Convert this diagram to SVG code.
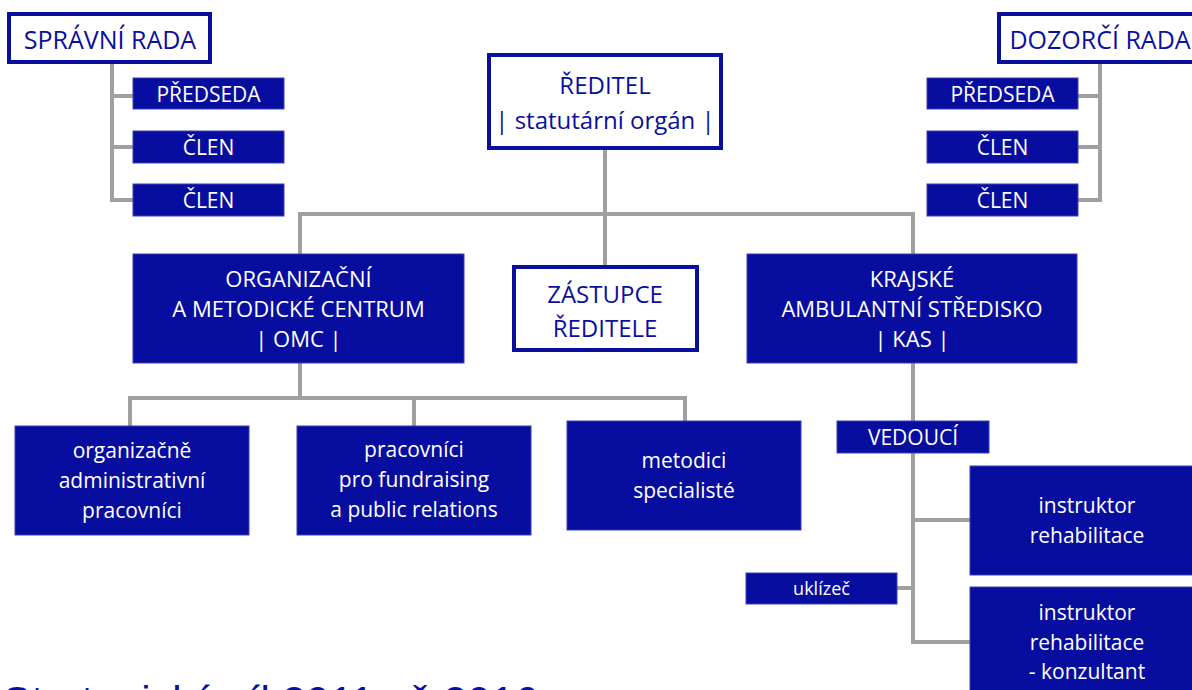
<svg xmlns="http://www.w3.org/2000/svg" width="1192" height="690" viewBox="0 0 1192 690">
<style>
.wb{fill:#ffffff;stroke:#0a0f9e;stroke-width:4}
.fb{fill:#070d9e;stroke:#3a40b4;stroke-width:1}
.t{font-family:"Open Sans","Noto Sans","DejaVu Sans",sans-serif;text-anchor:middle}
.tw{fill:#ffffff}
.tb{fill:#0a0f9e}
.c{fill:none;stroke:#a0a0a0;stroke-width:4;stroke-linejoin:miter;stroke-linecap:butt}
</style>
<rect width="1192" height="690" fill="#ffffff"/>
<g id="connectors">
<path class="c" d="M112 64 V200 H133 M112 96 H133 M112 147 H133"/>
<path class="c" d="M1100 64 V200 H1078 M1100 96 H1078 M1100 147 H1078"/>
<path class="c" d="M605 150 V265 M300 254 V214 H913 V254"/>
<path class="c" d="M300 363 V398 M130 426 V398 H685 V421 M414 398 V426"/>
<path class="c" d="M913 363 V421 M913 453 V642 H970 M913 520 H970 M897 588 H913"/>
</g>
<g id="spravni-rada"><rect class="wb" x="9" y="14" width="201" height="48"/><text class="t tb" x="110" y="49" font-size="25">SPRÁVNÍ RADA</text></g>
<g id="sr-predseda"><rect class="fb" x="133" y="78" width="151" height="31"/><text class="t tw" x="208.5" y="102" font-size="21">PŘEDSEDA</text></g>
<g id="sr-clen1"><rect class="fb" x="133" y="131" width="151" height="32"/><text class="t tw" x="208.5" y="155" font-size="21">ČLEN</text></g>
<g id="sr-clen2"><rect class="fb" x="133" y="184" width="151" height="32"/><text class="t tw" x="208.5" y="208" font-size="21">ČLEN</text></g>
<g id="dozorci-rada"><rect class="wb" x="999" y="14" width="202" height="48"/><text class="t tb" x="1100" y="49" font-size="25">DOZORČÍ RADA</text></g>
<g id="dr-predseda"><rect class="fb" x="927" y="78" width="151" height="31"/><text class="t tw" x="1002.5" y="102" font-size="21">PŘEDSEDA</text></g>
<g id="dr-clen1"><rect class="fb" x="927" y="131" width="151" height="32"/><text class="t tw" x="1002.5" y="155" font-size="21">ČLEN</text></g>
<g id="dr-clen2"><rect class="fb" x="927" y="184" width="151" height="32"/><text class="t tw" x="1002.5" y="208" font-size="21">ČLEN</text></g>
<g id="reditel"><rect class="wb" x="489" y="55" width="232" height="93"/><text class="t tb" x="605" y="94" font-size="24">ŘEDITEL</text><text class="t tb" x="605" y="129" font-size="24">| statutární orgán |</text></g>
<g id="zastupce"><rect class="wb" x="514" y="267" width="183" height="83"/><text class="t tb" x="605" y="303" font-size="24">ZÁSTUPCE</text><text class="t tb" x="605" y="337" font-size="24">ŘEDITELE</text></g>
<g id="omc"><rect class="fb" x="133" y="254" width="331" height="109"/><text class="t tw" x="298.5" y="287" font-size="22">ORGANIZAČNÍ</text><text class="t tw" x="298.5" y="317" font-size="22">A METODICKÉ CENTRUM</text><text class="t tw" x="298.5" y="347" font-size="22">| OMC |</text></g>
<g id="kas"><rect class="fb" x="747" y="254" width="330" height="109"/><text class="t tw" x="912" y="287" font-size="22">KRAJSKÉ</text><text class="t tw" x="912" y="317" font-size="22">AMBULANTNÍ STŘEDISKO</text><text class="t tw" x="912" y="347" font-size="22">| KAS |</text></g>
<g id="org-admin"><rect class="fb" x="15" y="426" width="234" height="109"/><text class="t tw" x="132" y="458" font-size="21">organizačně</text><text class="t tw" x="132" y="488" font-size="21">administrativní</text><text class="t tw" x="132" y="518" font-size="21">pracovníci</text></g>
<g id="fundraising"><rect class="fb" x="297" y="426" width="234" height="109"/><text class="t tw" x="414" y="457" font-size="21">pracovníci</text><text class="t tw" x="414" y="487" font-size="21">pro fundraising</text><text class="t tw" x="414" y="517" font-size="21">a public relations</text></g>
<g id="metodici"><rect class="fb" x="567" y="421" width="234" height="109"/><text class="t tw" x="684" y="468" font-size="21">metodici</text><text class="t tw" x="684" y="498" font-size="21">specialisté</text></g>
<g id="vedouci"><rect class="fb" x="837" y="421" width="152" height="32"/><text class="t tw" x="913" y="445" font-size="21">VEDOUCÍ</text></g>
<g id="instruktor"><rect class="fb" x="970" y="466" width="230" height="109"/><text class="t tw" x="1087" y="513" font-size="21">instruktor</text><text class="t tw" x="1087" y="543" font-size="21">rehabilitace</text></g>
<g id="instruktor-konzultant"><rect class="fb" x="970" y="587" width="230" height="120"/><text class="t tw" x="1087" y="620" font-size="21">instruktor</text><text class="t tw" x="1087" y="650" font-size="21">rehabilitace</text><text class="t tw" x="1087" y="679" font-size="21">- konzultant</text></g>
<g id="uklizec"><rect class="fb" x="746" y="573" width="151" height="31"/><text class="t tw" x="821.5" y="595" font-size="18">uklízeč</text></g>
<text x="3" y="716" font-family="'Liberation Sans',Arial,sans-serif" font-size="42" fill="#0a0f9e" textLength="535" lengthAdjust="spacing">Strategický cíl 2011 až 2016</text>
</svg>
